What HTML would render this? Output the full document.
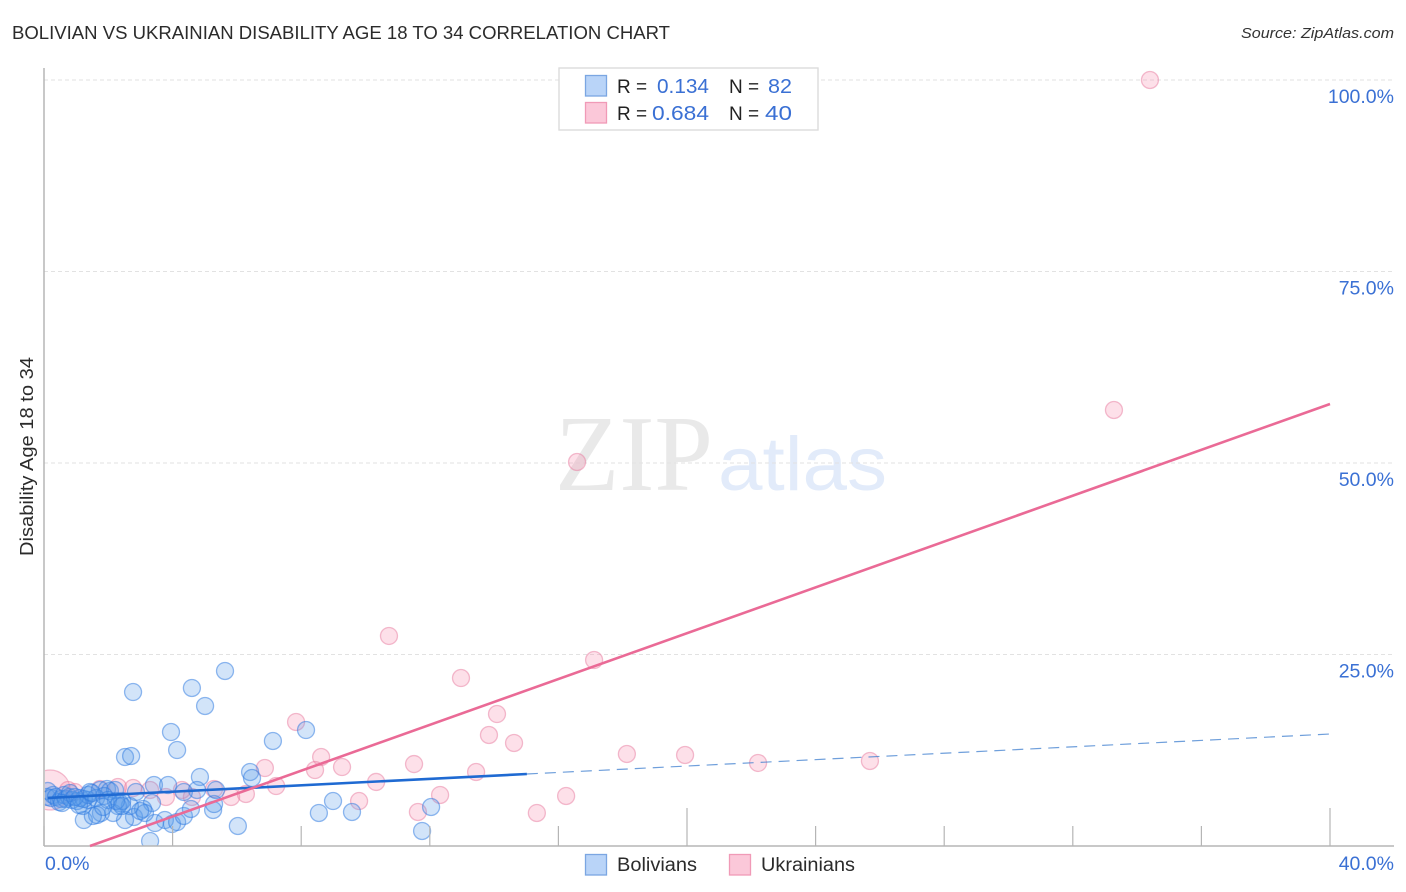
<!DOCTYPE html>
<html lang="en">
<head>
<meta charset="utf-8">
<title>Bolivian vs Ukrainian Disability Age 18 to 34 Correlation Chart</title>
<style>
html,body{margin:0;padding:0;background:#fff;width:1406px;height:892px;overflow:hidden}
body{position:relative}
svg{display:block}
text{font-family:"Liberation Sans",sans-serif}
#left-edge-cover{position:absolute;left:0;top:750px;width:43px;height:100px;background:#fff}
</style>
</head>
<body>
<svg id="chart" width="1406" height="892" viewBox="0 0 1406 892" xmlns="http://www.w3.org/2000/svg">
  <text x="12" y="39" font-size="18.5" fill="#2b2b2b" textLength="658" lengthAdjust="spacingAndGlyphs">BOLIVIAN VS UKRAINIAN DISABILITY AGE 18 TO 34 CORRELATION CHART</text>
  <text x="1394" y="38" font-size="15" font-style="italic" fill="#333" text-anchor="end" textLength="153" lengthAdjust="spacingAndGlyphs">Source: ZipAtlas.com</text>

  <g>
    <text x="555" y="490" font-size="108" fill="#e9e9e9" style="font-family:'Liberation Serif',serif" textLength="158" lengthAdjust="spacingAndGlyphs">ZIP</text>
    <text x="718" y="490" font-size="76" fill="#e2ebfa" textLength="169" lengthAdjust="spacingAndGlyphs">atlas</text>
  </g>

  <g id="grid"></g>
  <g id="pink-points"></g>
  <g id="blue-points"></g>
  <g id="axes"></g>
  <g id="trends"></g>
  <g id="labels"></g>

  <text transform="translate(33,556) rotate(-90)" font-size="18.5" fill="#2b2b2b" textLength="199" lengthAdjust="spacingAndGlyphs">Disability Age 18 to 34</text>

  <g>
    <rect x="559" y="68" width="259" height="62" fill="#fff" stroke="#dcdcdc" stroke-width="1.4"/>
    <rect x="585.5" y="75.5" width="21" height="20.5" fill="#b9d4f8" stroke="#7ba6e2" stroke-width="1.3"/>
    <rect x="585.5" y="102.5" width="21" height="20.5" fill="#fbc8d9" stroke="#f09ab7" stroke-width="1.3"/>
    <text x="617" y="93" font-size="19" fill="#222">R =</text>
    <text x="709" y="93" font-size="20.5" fill="#3a70d4" text-anchor="end" textLength="52" lengthAdjust="spacingAndGlyphs">0.134</text>
    <text x="729" y="93" font-size="19" fill="#222">N =</text>
    <text x="792" y="93" font-size="20.5" fill="#3a70d4" text-anchor="end" textLength="24" lengthAdjust="spacingAndGlyphs">82</text>
    <text x="617" y="120" font-size="19" fill="#222">R =</text>
    <text x="709" y="120" font-size="20.5" fill="#3a70d4" text-anchor="end" textLength="57" lengthAdjust="spacingAndGlyphs">0.684</text>
    <text x="729" y="120" font-size="19" fill="#222">N =</text>
    <text x="792" y="120" font-size="20.5" fill="#3a70d4" text-anchor="end" textLength="27" lengthAdjust="spacingAndGlyphs">40</text>
  </g>

  <g>
    <rect x="585.5" y="854.5" width="21" height="20.5" fill="#b9d4f8" stroke="#7ba6e2" stroke-width="1.3"/>
    <text x="617" y="871" font-size="19" fill="#2b2b2b" textLength="80" lengthAdjust="spacingAndGlyphs">Bolivians</text>
    <rect x="729.5" y="854.5" width="21" height="20.5" fill="#fbc8d9" stroke="#f09ab7" stroke-width="1.3"/>
    <text x="761" y="871" font-size="19" fill="#2b2b2b" textLength="94" lengthAdjust="spacingAndGlyphs">Ukrainians</text>
  </g>
</svg>
<div id="left-edge-cover"></div>
<script>
const xTicks = [0, 4, 8, 12, 16, 20, 24, 28, 32, 36, 40];
const xMajorTicks = [20, 40];
const yGridValues = [25, 50, 75, 100];
const xTickLabelValues = [0, 40];
const xTickLabels = ["0.0%", "40.0%"];
const yTickLabels = ["25.0%", "50.0%", "75.0%", "100.0%"];

const bolivianX = [5.63,2.77,4.60,5.01,3.95,4.14,2.52,2.71,8.15,7.12,6.41,6.47,4.85,3.42,3.86,8.99,8.55,9.58,6.03,11.76,12.04,3.30,1.24,3.45,3.76,3.98,4.14,4.35,4.57,5.26,5.29,5.35,4.76,4.35,2.86,2.80,2.52,3.36,3.08,2.67,2.36,2.30,2.15,1.77,1.65,1.52,1.21,1.37,1.43,1.74,1.96,2.05,2.21,2.43,3.14,2.99,0.12,0.09,0.22,0.28,0.37,0.47,0.53,0.62,0.68,0.78,0.87,1.03,1.12,1.24,1.37,1.62,1.87,1.99,2.24,2.43,0.81,0.56,0.96,1.49,1.09,1.84];
const bolivianY = [22.85,20.10,20.63,18.28,14.88,12.53,11.62,11.75,15.14,13.71,9.66,8.88,9.01,7.96,7.96,5.87,4.31,4.44,2.61,1.96,5.09,0.65,3.39,3.00,3.39,2.87,3.13,3.92,4.83,4.70,5.48,7.31,7.31,7.05,7.05,3.79,3.39,5.61,4.83,5.22,5.61,5.22,4.31,4.31,4.05,3.92,5.22,6.01,7.05,7.31,7.44,7.18,7.31,5.87,4.31,4.57,7.18,6.40,6.27,6.66,6.40,5.74,6.14,6.66,6.14,6.40,6.01,5.87,6.27,6.14,6.66,6.27,6.53,6.01,5.87,5.22,6.92,5.61,6.40,6.92,5.35,5.09];

const ukrainianX = [34.40,33.28,16.58,10.73,17.11,12.97,14.09,7.84,13.84,14.62,8.62,18.13,19.94,22.21,25.69,8.43,9.27,6.87,11.51,13.44,10.33,7.22,6.28,5.82,9.80,12.32,16.24,15.33,11.63,4.60,5.29,4.29,3.79,3.30,2.77,2.30,1.74,0.96,0.75,0.19];
const ukrainianY = [100.0,56.92,50.13,27.42,24.28,21.93,17.23,16.19,14.49,13.45,11.62,12.01,11.88,10.84,11.10,9.92,10.31,10.18,10.70,9.66,8.36,7.83,6.79,6.40,5.87,6.66,6.53,4.31,4.44,6.40,7.44,7.31,6.40,7.31,7.57,7.70,7.44,7.05,7.31,7.31];

const bolivianTrendSolidX = [0.12, 15.02];
const bolivianTrendSolidY = [6.27, 9.40];
const bolivianTrendDashedX = [15.02, 40];
const bolivianTrendDashedY = [9.40, 14.62];
const ukrainianTrendX = [1.43, 40];
const ukrainianTrendY = [0, 57.7];

const SVG_NS = "http://www.w3.org/2000/svg";
const xScale = v => 44 + 32.15 * v;
const yScale = v => 846 - 7.66 * v;
const PLOT_LEFT = 45;
const PLOT_BOTTOM = 846;
const NORMAL_RADIUS = 8.5;
const LARGE_RADIUS = 20;
const largeUkrainianIndex = ukrainianX.length - 1;

function make(tag, parentId, props) {
  const el = document.createElementNS(SVG_NS, tag);
  for (const k in props) el.setAttribute(k, props[k]);
  document.getElementById(parentId).appendChild(el);
  return el;
}

/* Draws a point, cutting it at the plot edge when it would cross the axes. */
function drawPoint(parentId, cx, cy, r, style) {
  if (cx - r < PLOT_LEFT) {
    const dy = Math.sqrt(r * r - (PLOT_LEFT - cx) * (PLOT_LEFT - cx));
    const d = "M" + PLOT_LEFT + "," + (cy - dy) + " A" + r + "," + r + " 0 1 1 " + PLOT_LEFT + "," + (cy + dy);
    return make("path", parentId, Object.assign({d: d}, style));
  }
  if (cy + r > PLOT_BOTTOM) {
    const dx = Math.sqrt(r * r - (PLOT_BOTTOM - cy) * (PLOT_BOTTOM - cy));
    const d = "M" + (cx - dx) + "," + PLOT_BOTTOM + " A" + r + "," + r + " 0 1 1 " + (cx + dx) + "," + PLOT_BOTTOM;
    return make("path", parentId, Object.assign({d: d}, style));
  }
  return make("circle", parentId, Object.assign({cx: cx, cy: cy, r: r}, style));
}

yGridValues.forEach(v => {
  const el = make("line", "grid", {x1: 44, x2: 1394, y1: yScale(v), y2: yScale(v), stroke: "#e2e2e2", "stroke-width": 1, "stroke-dasharray": "4 3"});
  
  
});

const xAxisLine = make("line", "axes", {x1: 44, x2: 1394, y1: 846, y2: 846, stroke: "#b5b5b5", "stroke-width": 1.5});


const yAxisLine = make("line", "axes", {x1: 44, x2: 44, y1: 68, y2: 846, stroke: "#b5b5b5", "stroke-width": 1.5});



xTicks.forEach(v => {
  const top = xMajorTicks.includes(v) ? 808 : 826;
  const el = make("line", "axes", {x1: xScale(v), x2: xScale(v), y1: top, y2: 846, stroke: "#b5b5b5", "stroke-width": 1.2});
  
  
});

ukrainianX.forEach((v, i) => {
  const r = i === largeUkrainianIndex ? LARGE_RADIUS : NORMAL_RADIUS;
  const el = drawPoint("pink-points", xScale(v), yScale(ukrainianY[i]), r, {fill: "#f67ea3", "fill-opacity": 0.24, stroke: "#e87c9f", "stroke-opacity": 0.5, "stroke-width": 1.3});
  
  
});

bolivianX.forEach((v, i) => {
  const el = drawPoint("blue-points", xScale(v), yScale(bolivianY[i]), NORMAL_RADIUS, {fill: "#5a9bea", "fill-opacity": 0.27, stroke: "#2f7be0", "stroke-opacity": 0.52, "stroke-width": 1.3});
  
  
});

const blueDashed = make("line", "trends", {x1: xScale(bolivianTrendDashedX[0]), y1: yScale(bolivianTrendDashedY[0]), x2: xScale(bolivianTrendDashedX[1]), y2: yScale(bolivianTrendDashedY[1]), stroke: "#3f7fcf", "stroke-opacity": 0.75, "stroke-width": 1.2, "stroke-dasharray": "11 7"});


const blueSolid = make("line", "trends", {x1: xScale(bolivianTrendSolidX[0]), y1: yScale(bolivianTrendSolidY[0]), x2: xScale(bolivianTrendSolidX[1]), y2: yScale(bolivianTrendSolidY[1]), stroke: "#1f6ad2", "stroke-width": 2.6});


const pinkLine = make("line", "trends", {x1: xScale(ukrainianTrendX[0]), y1: yScale(ukrainianTrendY[0]), x2: xScale(ukrainianTrendX[1]), y2: yScale(ukrainianTrendY[1]), stroke: "#ea6a96", "stroke-width": 2.6});



yGridValues.forEach((v, i) => {
  const t = make("text", "labels", {x: 1394, y: yScale(v) + 23, "font-size": 19.5, fill: "#3a70d4", "text-anchor": "end"});
  t.textContent = yTickLabels[i];
  
  
});

xTickLabelValues.forEach((v, i) => {
  const t = make("text", "labels", i === 0
    ? {x: 45, y: 870, "font-size": 19.5, fill: "#3a70d4"}
    : {x: 1394, y: 870, "font-size": 19.5, fill: "#3a70d4", "text-anchor": "end"});
  t.textContent = xTickLabels[i];
  
  
});
</script>
</body>
</html>
